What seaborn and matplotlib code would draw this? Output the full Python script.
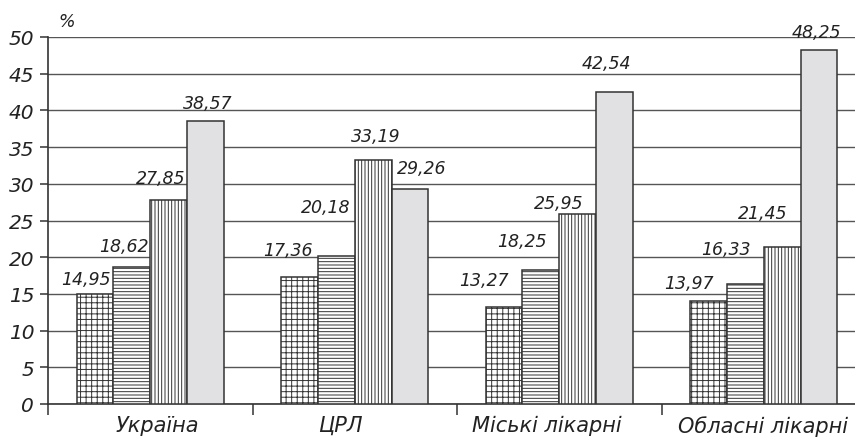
import matplotlib
matplotlib.use("Agg")
import matplotlib.pyplot as plt
import matplotlib.transforms as mtransforms
import pandas as pd
import seaborn as sns

# ---- data -------------------------------------------------------------
categories = ["Україна", "ЦРЛ", "Міські лікарні", "Обласні лікарні"]
series_1 = [14.95, 17.36, 13.27, 13.97]
series_2 = [18.62, 20.18, 18.25, 16.33]
series_3 = [27.85, 33.19, 25.95, 21.45]
series_4 = [38.57, 29.26, 42.54, 48.25]
y_ticks = [0, 5, 10, 15, 20, 25, 30, 35, 40, 45, 50]
unit_label = "%"

series_names = ["s1", "s2", "s3", "s4"]
series_values = [series_1, series_2, series_3, series_4]

# ---- styling ----------------------------------------------------------
fills = ["white", "white", "white", "#e1e1e3"]
hatches = ["+++", "-----", "|||||", None]
edge = "#333333"
# label offsets (pixels) from the top of each bar, per series then category
label_dx = [[-9, -12, -20, -20], [-8, -11, -19, -19], [-8, 3, -19, -19], [2, 12, -8, -3]]
label_dy = [[17, 28, 28, 20], [23, 50, 31, 37], [23, 26, 12, 35], [19, 23, 30, 19]]
xlabel_dx = [7, -14, -12, -1]

rows = []
for name, vals in zip(series_names, series_values):
    for cat, v in zip(categories, vals):
        rows.append({"category": cat, "series": name, "value": v})
df = pd.DataFrame(rows)

sns.set_style("white")
plt.rcParams["font.family"] = ["DejaVu Sans"]
plt.rcParams["font.style"] = "italic"
plt.rcParams["hatch.linewidth"] = 0.7
plt.rcParams["text.color"] = "#222222"

fig = plt.figure(figsize=(8.55, 4.39), dpi=100)
ax = fig.add_axes([48 / 855, 34 / 439, 818 / 855, 367 / 439])

sns.barplot(
    data=df, x="category", y="value", hue="series",
    order=categories, hue_order=series_names,
    palette=fills, saturation=1, width=0.72, gap=0,
    edgecolor=edge, linewidth=1.1, legend=False, ax=ax, zorder=3,
)

for container, hatch in zip(ax.containers, hatches):
    for bar in container:
        if hatch:
            bar.set_hatch(hatch)

# value labels
for i, (container, vals) in enumerate(zip(ax.containers, series_values)):
    for j, (bar, v) in enumerate(zip(container, vals)):
        x = bar.get_x() + bar.get_width() / 2
        ax.annotate(
            f"{v:.2f}".replace(".", ","),
            xy=(x, v), xytext=(label_dx[i][j], label_dy[i][j] - 6.5),
            textcoords="offset pixels", ha="center", va="baseline",
            fontsize=12.5, fontstyle="italic", color="#222222",
            annotation_clip=False, zorder=5,
        )

ax.set_xlim(-0.5, len(categories) - 0.5)
ax.set_ylim(0, 50)
ax.set_yticks(y_ticks)
ax.set_xlabel("")
ax.set_ylabel("")

ax.yaxis.grid(True, color="#555555", linewidth=1.0)
ax.xaxis.grid(False)
ax.set_axisbelow(True)

for side in ["top", "right"]:
    ax.spines[side].set_visible(False)
for side in ["left", "bottom"]:
    ax.spines[side].set_color(edge)
    ax.spines[side].set_linewidth(1.2)

ax.tick_params(axis="y", length=6, width=1.1, color=edge, pad=4,
               labelsize=14.5, labelcolor="#222222", direction="out", left=True)
ax.tick_params(axis="x", which="major", length=0, pad=8,
               labelsize=15, labelcolor="#222222")
ax.set_xticks([k - 0.5 for k in range(len(categories))], minor=True)
ax.tick_params(axis="x", which="minor", length=8, width=1.1, color=edge,
               direction="out", bottom=True)

for lbl, dx in zip(ax.get_xticklabels(), xlabel_dx):
    lbl.set_fontstyle("italic")
    lbl.set_transform(lbl.get_transform()
                      + mtransforms.ScaledTranslation(dx / 100, 0, fig.dpi_scale_trans))
for lbl in ax.get_yticklabels():
    lbl.set_fontstyle("italic")

fig.text(67 / 855, 1 - 22 / 439, unit_label, ha="center", va="center",
         fontsize=12.5, fontstyle="italic", color="#222222")

fig.savefig("out.png", dpi=100)
